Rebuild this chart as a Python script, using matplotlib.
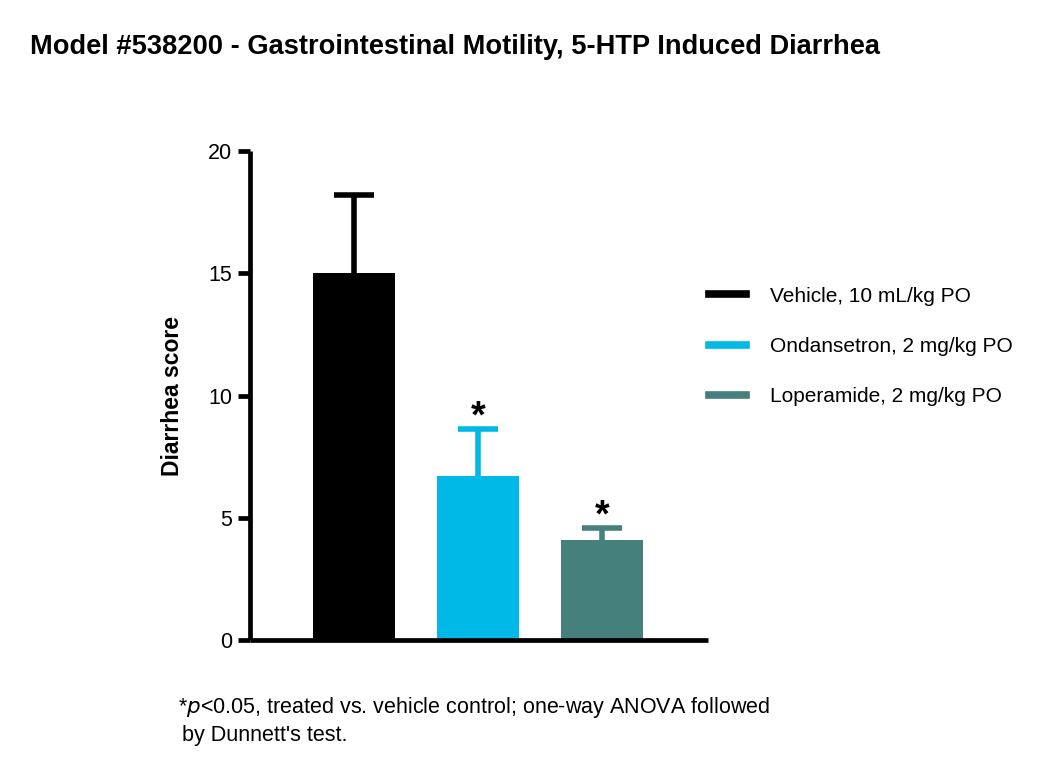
import matplotlib
matplotlib.use("Agg")
import matplotlib.pyplot as plt
from matplotlib.lines import Line2D

plt.rcParams['font.family'] = ['Liberation Sans', 'DejaVu Sans']

groups = ["Vehicle, 10 mL/kg PO", "Ondansetron, 2 mg/kg PO", "Loperamide, 2 mg/kg PO"]
means = [15.0, 6.7, 4.1]
sems = [3.2, 1.95, 0.5]
colors = ["#000000", "#00B9E6", "#45807C"]
significant = [False, True, True]
yticks = [0, 5, 10, 15, 20]

fig = plt.figure(figsize=(10.5, 7.78), dpi=100)
ax = fig.add_axes([250/1050, 1-640/778, (708-250)/1050, (640-151)/778])

x = list(range(len(means)))
ax.bar(x, means, width=0.66, color=colors, zorder=2)
for xi, m, s, c, sig in zip(x, means, sems, colors, significant):
    eb = ax.errorbar(xi, m, yerr=[[0], [s]], fmt='none', ecolor=c, elinewidth=4,
                     capsize=14.5, capthick=4, zorder=1)
    caps = eb[1]
    if len(caps) >= 2:
        caps[0].set_visible(False)
    if sig:
        ax.text(xi, m + s - 0.3, "*", ha='center', va='bottom', fontsize=27,
                fontweight='bold')

ax.set_xlim(-0.84, 2.855)
ax.set_ylim(0, 20)
ax.set_yticks(yticks)
ax.set_xticks([])
for sp in ['top', 'right']:
    ax.spines[sp].set_visible(False)
for sp in ['left', 'bottom']:
    ax.spines[sp].set_linewidth(3.4)
    ax.spines[sp].set_capstyle('butt')
ax.tick_params(axis='y', length=9, width=3.4, labelsize=15.5, pad=4)
ax.set_ylabel("Diarrhea score", fontsize=16.5, fontweight='bold', labelpad=17)

handles = [Line2D([0], [0], color=c, lw=5.5) for c in colors]
fig.legend(handles, groups, loc='upper left', bbox_to_anchor=(690/1050, 1-268/778),
           frameon=False, fontsize=15, handlelength=1.8, handletextpad=1.15,
           labelspacing=1.5)

fig.text(30/1050, 1-47/778, "Model #538200 - Gastrointestinal Motility, 5-HTP Induced Diarrhea",
         fontsize=19.6, fontweight='bold', va='center', ha='left')
fig.text(178/1050, 1-708/778,
         "*$\\it{p}$<0.05, treated vs. vehicle control; one-way ANOVA followed",
         fontsize=15.5, va='center', ha='left')
fig.text(182/1050, 1-736/778, "by Dunnett's test.", fontsize=15.5, va='center', ha='left')

fig.savefig("out.png", dpi=100)
